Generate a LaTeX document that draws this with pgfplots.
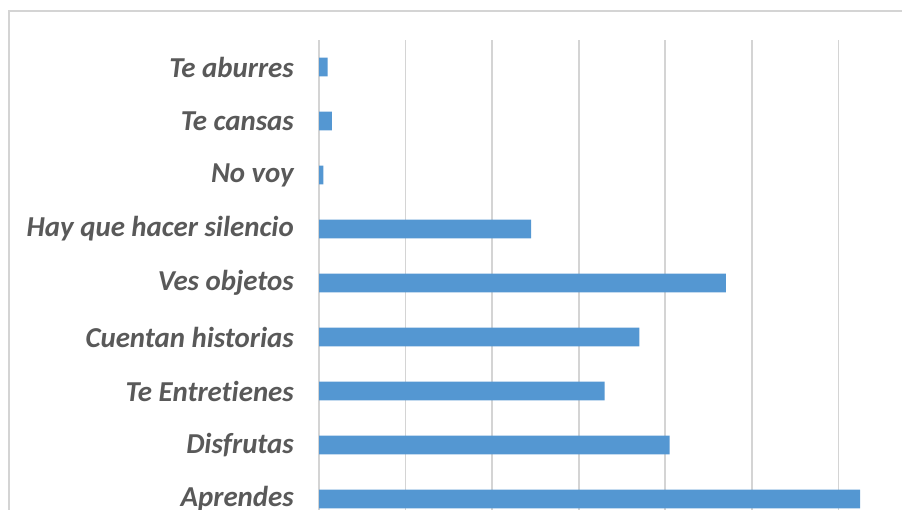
\documentclass[border=0pt]{standalone}
\usepackage{fontspec}
\setmainfont{Carlito}[Ligatures=NoCommon]
\usepackage{pgfplots}
\pgfplotsset{compat=1.18}
\definecolor{barblue}{HTML}{5497D2}
\definecolor{gridgray}{HTML}{D4D4D4}
\definecolor{labelgray}{HTML}{595959}
\begin{document}
\begin{tikzpicture}[x=1bp,y=1bp]
\useasboundingbox (0,0) rectangle (902,-510);
\clip (0,0) rectangle (902,-510);
\draw[gridgray, line width=1.5bp] (9,-1000) -- (9,-11) -- (1000,-11);
\begin{axis}[
  at={(319bp,-526bp)}, anchor=south west,
  scale only axis, width=606bp, height=486bp,
  xmin=0, xmax=140, ymin=-0.5, ymax=8.5,
  xtick={0,20,...,140}, xticklabels={},
  xmajorgrids, grid style={gridgray, line width=1.7bp},
  ytick={0,...,8},
  yticklabels={Aprendes,Disfrutas,Te Entretienes,Cuentan historias,Ves objetos,Hay que hacer silencio,No voy,Te cansas,Te aburres},
  yticklabel style={font=\fontsize{29}{31}\selectfont\bfseries\itshape, text=labelgray, anchor=east, inner sep=0pt, xshift=-25bp},
  axis lines*=left,
  x axis line style={draw=none},
  y axis line style={gridgray, line width=1.7bp},
  tick style={draw=none},
  major tick length=0pt,
  xbar, bar width=0.35,
]
\addplot[fill=barblue, draw=none] coordinates {(125,0) (81,1) (66,2) (74,3) (94,4) (49,5) (1,6) (3,7) (2,8)};
\end{axis}
\end{tikzpicture}
\end{document}
